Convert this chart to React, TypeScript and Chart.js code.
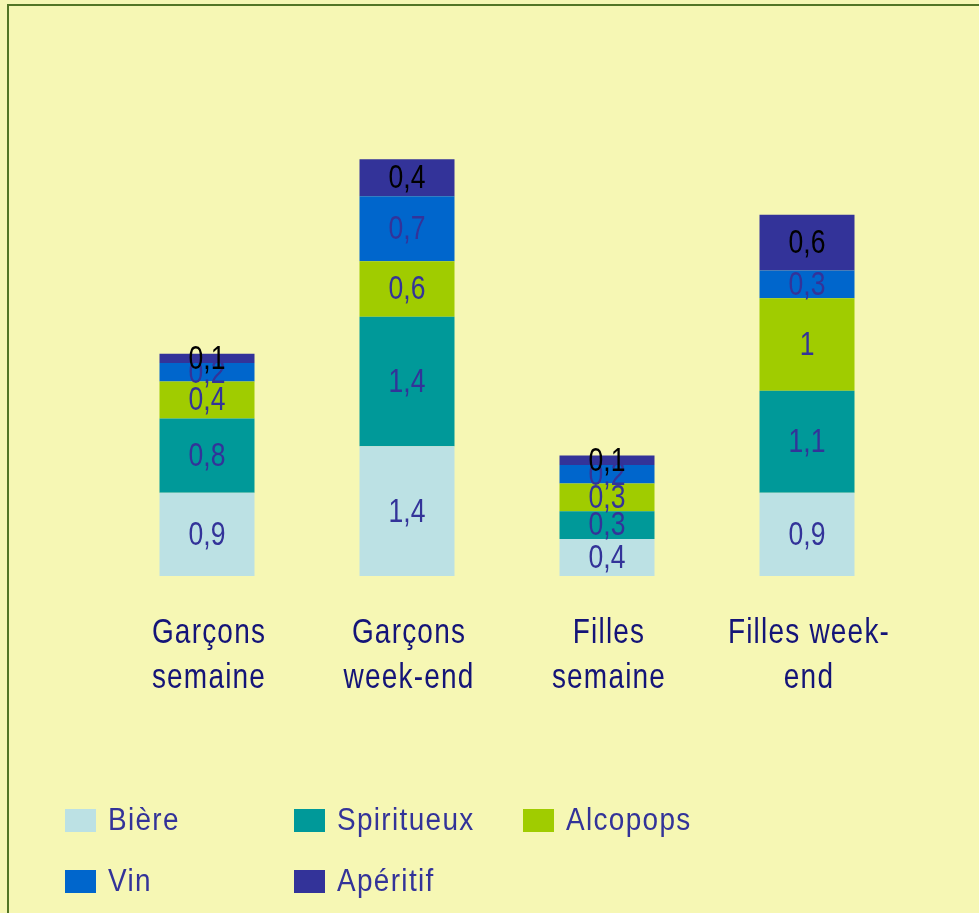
import React, { useEffect, useRef } from "react";
import { Chart, registerables } from "chart.js";

Chart.register(...registerables);

const categories: string[][] = [
  ["Garçons", "semaine"],
  ["Garçons", "week-end"],
  ["Filles", "semaine"],
  ["Filles week-", "end"],
];
const biere = [0.9, 1.4, 0.4, 0.9];
const spiritueux = [0.8, 1.4, 0.3, 1.1];
const alcopops = [0.4, 0.6, 0.3, 1];
const vin = [0.2, 0.7, 0.2, 0.3];
const aperitif = [0.1, 0.4, 0.1, 0.6];

const seriesNames = ["Bière", "Spiritueux", "Alcopops", "Vin", "Apéritif"];
const seriesColors = ["#BCE1E4", "#009999", "#A0CC00", "#0066CC", "#333399"];
const labelColors = ["#333399", "#333399", "#333399", "#333399", "#000000"];

const FONT = "'Liberation Sans', Arial, sans-serif";
const BG = "#F6F7B4";

function narrowText(ctx: any, text: string, x: number, y: number, spacing: number, sx = 0.8) {
  ctx.save();
  ctx.translate(x, y);
  ctx.scale(sx, 1);
  ctx.letterSpacing = spacing + "px";
  ctx.fillText(text, 0, 0);
  ctx.restore();
}

const valueLabels = {
  id: "valueLabels",
  afterDatasetsDraw(chart: any) {
    const ctx = chart.ctx;
    ctx.save();
    ctx.font = `34px ${FONT}`;
    ctx.textAlign = "center";
    ctx.textBaseline = "middle";
    chart.data.datasets.forEach((ds: any, di: number) => {
      const meta = chart.getDatasetMeta(di);
      meta.data.forEach((bar: any, i: number) => {
        const v = ds.data[i];
        const cy = (bar.y + bar.base) / 2;
        ctx.fillStyle = labelColors[di];
        narrowText(ctx, String(v).replace(".", ","), bar.x, cy + 1, 0, 0.78);
      });
    });
    ctx.restore();
  },
};

const categoryLabels = {
  id: "categoryLabels",
  afterDraw(chart: any) {
    const ctx = chart.ctx;
    const xs = chart.scales.x;
    const bottom = chart.chartArea.bottom;
    ctx.save();
    ctx.font = `35px ${FONT}`;
    ctx.textAlign = "center";
    ctx.textBaseline = "middle";
    ctx.fillStyle = "#141478";
    categories.forEach((lines, i) => {
      const x = xs.getPixelForValue(i);
      lines.forEach((line, li) => {
        narrowText(ctx, line, x + 2, bottom + 57 + li * 45, 1.5);
      });
    });
    ctx.restore();
  },
};

const customLegend = {
  id: "customLegend",
  afterDraw(chart: any) {
    const ctx = chart.ctx;
    ctx.save();
    ctx.font = `31px ${FONT}`;
    ctx.textAlign = "left";
    ctx.textBaseline = "middle";
    chart.data.datasets.forEach((ds: any, di: number) => {
      const col = di % 3;
      const row = Math.floor(di / 3);
      const bx = 65 + col * 229;
      const by = 809 + row * 61;
      ctx.fillStyle = ds.backgroundColor;
      ctx.fillRect(bx, by, 31, 23);
      ctx.fillStyle = "#333399";
      narrowText(ctx, ds.label, bx + 43, by + 12, 1.5, 0.9);
    });
    ctx.restore();
  },
};

export default function App() {
  const ref = useRef<HTMLCanvasElement>(null);
  useEffect(() => {
    if (!ref.current) return;
    const data = [biere, spiritueux, alcopops, vin, aperitif];
    const chart = new Chart(ref.current, {
      type: "bar",
      data: {
        labels: categories.map((c) => c.join(" ")),
        datasets: data.map((d, i) => ({
          label: seriesNames[i],
          data: d,
          backgroundColor: seriesColors[i],
          borderWidth: 0,
          barPercentage: 0.475,
          categoryPercentage: 1,
        })),
      },
      options: {
        responsive: false,
        animation: false,
        devicePixelRatio: 1,
        layout: { padding: { left: 107, right: 72, top: 113, bottom: 337 } },
        plugins: {
          legend: { display: false },
          tooltip: { enabled: false },
        },
        scales: {
          x: { stacked: true, display: false },
          y: { stacked: true, display: false, min: 0, max: 5 },
        },
      },
      plugins: [valueLabels, categoryLabels, customLegend],
    });
    return () => chart.destroy();
  }, []);
  return (
    <div
      style={{
        position: "fixed",
        left: 0,
        top: 0,
        width: 979,
        height: 913,
        background: BG,
        overflow: "hidden",
      }}
    >
      <div
        style={{
          position: "absolute",
          left: 7,
          top: 4,
          width: 1000,
          height: 1000,
          borderLeft: "2px solid #527526",
          borderTop: "2px solid #527526",
        }}
      />
      <canvas
        ref={ref}
        width={979}
        height={913}
        style={{ position: "absolute", left: 0, top: 0, width: 979, height: 913 }}
      />
    </div>
  );
}
